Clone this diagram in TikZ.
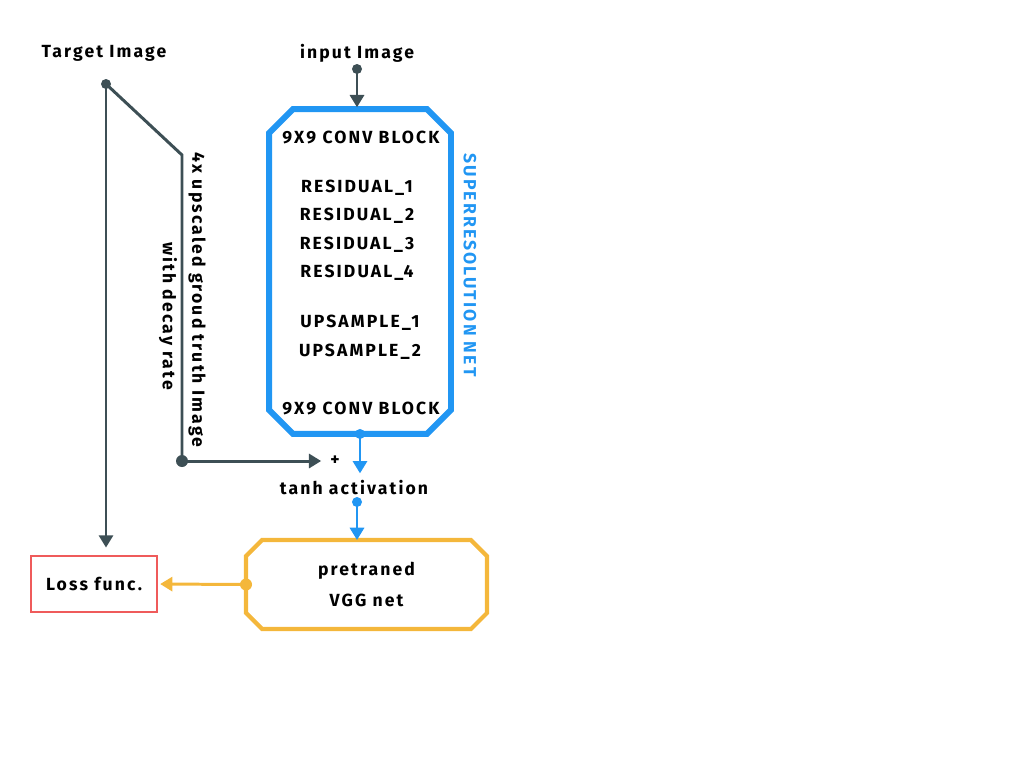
\documentclass[tikz,border=0pt]{standalone}
\usepackage{fontspec}
\setmainfont{Fira Sans}[LetterSpace=12]
\usepackage{tikz}
\usetikzlibrary{arrows.meta,positioning,calc}
\definecolor{slate}{HTML}{3D4F55}
\definecolor{srblue}{HTML}{2196F3}
\definecolor{vggyel}{HTML}{F4B73B}
\definecolor{lossred}{HTML}{EF5B5B}
% octagon round a named node: #1 style, #2 node, #3 chamfer
\newcommand{\octbox}[3]{%
  \draw[#1] ($(#2.north west)+(#3,0)$) -- ($(#2.north east)+(-#3,0)$)
    -- ($(#2.north east)+(0,#3)$) -- ($(#2.south east)+(0,-#3)$)
    -- ($(#2.south east)+(-#3,0)$) -- ($(#2.south west)+(#3,0)$)
    -- ($(#2.south west)+(0,-#3)$) -- ($(#2.north west)+(0,#3)$) -- cycle;}

\begin{document}
\begin{tikzpicture}[x=0.02cm, y=-0.02cm, every node/.style={font=\bfseries\fontsize{10}{12}\selectfont}]
\tikzset{txt/.style={inner sep=2pt}}
\tikzset{srbox/.style={minimum width=3.64cm, minimum height=6.5cm, inner sep=0pt, outer sep=0pt}}
\tikzset{vggbox/.style={minimum width=4.82cm, minimum height=1.78cm, align=center, inner sep=0pt, outer sep=0pt}}
\tikzset{lossbox/.style={draw=lossred, line width=1.6pt, minimum width=2.52cm, minimum height=1.12cm, inner sep=0pt}}
\tikzset{dk/.style={draw=slate, line width=1.7pt, -{Triangle[width=8pt,length=7pt]}}}
\tikzset{bl/.style={draw=srblue, line width=1.7pt, -{Triangle[width=8pt,length=7pt]}}}
\tikzset{yl/.style={draw=vggyel, line width=1.7pt, -{Triangle[width=8pt,length=7pt]}}}
\useasboundingbox (0,0) rectangle (1024,768);

% inputs
\node[txt] (tgt) at (104,53) {Target Image};
\node[txt] (inp) at (357,53) {input Image};
\coordinate (tdot) at (106,84);
\coordinate (idot) at (357,69);

% superresolution net
\node[srbox] (sr) at (360,271.5) {};
\octbox{draw=srblue, line width=3.4pt, line join=miter}{sr}{24}
\node[txt] (conv1) at (361,138) {9X9 CONV BLOCK};
\node[txt] (res1) at (357,188) {RESIDUAL\_1};
\node[txt] (res2) at (357,216) {RESIDUAL\_2};
\node[txt] (res3) at (357,245) {RESIDUAL\_3};
\node[txt] (res4) at (357,273) {RESIDUAL\_4};
\node[txt] (up1) at (360,323) {UPSAMPLE\_1};
\node[txt] (up2) at (360,352) {UPSAMPLE\_2};
\node[txt] (conv2) at (361,409) {9X9 CONV BLOCK};
\node[txt, text=srblue, rotate=-90] (srname) at (470,265) {SUPERRESOLUTION NET};

% ground truth branch
\coordinate (bend) at (182,155);
\coordinate (gdot) at (182,461);
\node[txt, rotate=-90] (gt1) at (197,300) {4x upscaled groud truth Image};
\node[txt, rotate=-90] (gt2) at (168,316) {with decay rate};
\node[txt] (plus) at (335,461) {+};
\node[txt] (tanh) at (354,488) {tanh activation};
\coordinate (adot) at (357,502);

% vgg and loss
\node[vggbox] (vgg) at (366.5,584.5) {pretraned\\[6pt]VGG net};
\octbox{draw=vggyel, line width=2.4pt}{vgg}{16}
\node[lossbox] (loss) at (94,584) {Loss func.};

% connectors
\fill[slate] (tdot) circle (5);
\fill[slate] (idot) circle (5);
\fill[slate] (gdot) circle (6);
\draw[dk, shorten >=4pt] (tdot) -- (tdot |- loss.north);
\draw[dk, -] (tdot) -- (bend) -- (gdot);
\draw[dk, shorten >=3pt] (gdot) -- (plus.west);
\draw[dk, shorten >=1pt] (idot) -- (idot |- sr.north);
\fill[srblue] (sr.south) circle (5);
\draw[bl, shorten >=2pt] (sr.south) -- (sr.south |- tanh.north);
\fill[srblue] (adot) circle (5);
\draw[bl] (adot) -- (adot |- vgg.north);
\fill[vggyel] (vgg.west) circle (6);
\draw[yl, shorten >=1pt] (vgg.west) -- (loss.east);
\end{tikzpicture}
\end{document}
